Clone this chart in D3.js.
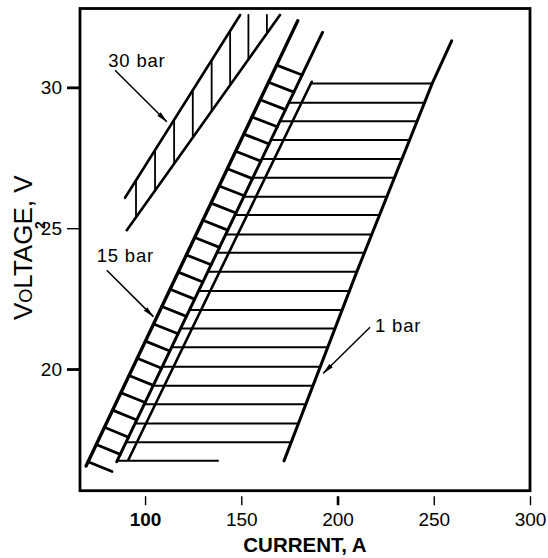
<!DOCTYPE html>
<html><head><meta charset="utf-8">
<script src="https://cdn.jsdelivr.net/npm/d3@7"></script>
<style>body{margin:0;background:#fff}svg{display:block}</style>
</head><body>
<svg id="chart" width="548" height="558"></svg>
<script>
// ---------- data (current in A, voltage in V) ----------
const xTicks = [100, 150, 200, 250, 300];
const xTickBold = [100];
const yTicks = [20, 25, 30];

// 30 bar band: two boundary lines + vertical hatches at given currents
const bar30Upper = [[89.6, 26.08], [149.4, 32.57]];
const bar30Lower = [[90.5, 24.93], [170.1, 32.57]];
const bar30HatchA = [95.3, 105.2, 115.1, 124.8, 134.6, 144.2, 153.7, 163.3];
const bar30TopV = 32.57;

// 15 bar band: two boundary lines + slanted hatches starting at given voltages
const bar15Left = [[69.35, 16.56], [179.3, 32.36]];
const bar15Right = [[85.3, 16.71], [192.2, 31.95]];
const bar15HatchV = [30.79, 30.18, 29.56, 28.95, 28.34, 27.73, 27.11, 26.50, 25.89, 25.28,
                     24.67, 24.05, 23.44, 22.83, 22.22, 21.60, 20.99, 20.38, 19.77, 19.16,
                     18.54, 17.93, 17.32, 16.71];
const bar15HatchDrop = 0.35;

// 1 bar band: boundary lines + horizontal rungs at given voltages
const bar1Left = [[91.3, 16.77], [186.6, 30.2]];
const bar1Right = [[172.2, 16.74], [210.0, 23.45], [249.2, 30.14], [259.3, 31.65]];
const bar1RungV = [30.14, 29.45, 28.80, 28.13, 27.46, 26.79, 26.12, 25.47, 24.78, 24.13,
                   23.45, 22.77, 22.10, 21.44, 20.77, 20.08, 19.41, 18.75, 18.07, 17.40, 16.74];
const bar1LastRungEndA = 137.9;

// annotations
const annoText = ["30 bar", "15 bar", "1 bar"];
const annoTextA = [80.9, 74.9, 219.5];
const annoTextV = [30.73, 23.81, 21.32];
const annoFrom = [[84.4, 30.61], [80.1, 23.51], [216.9, 21.48]];
const annoTo = [[111.3, 28.78], [104.3, 21.86], [192.6, 19.85]];

// ---------- layout ----------
const L = 80, R = 530, T = 8.5, B = 490.7;
const svg = d3.select("#chart");
const x = d3.scaleLinear().domain([66.2, 300]).range([L, R]);
const y = d3.scaleLinear().domain([15.68, 32.80]).range([B, T]);
const FONT = "'Liberation Sans', Arial, Helvetica, sans-serif";

// interpolators along a boundary
const aAtV = pts => d3.scaleLinear().domain(pts.map(p => p[1])).range(pts.map(p => p[0]));
const vAtA = pts => d3.scaleLinear().domain(pts.map(p => p[0])).range(pts.map(p => p[1]));
const line = d3.line().x(d => x(d[0])).y(d => y(d[1]));

const g = svg.append("g").attr("stroke", "#000").attr("fill", "none").attr("stroke-linecap", "round");

function seg(p1, p2, w) {
  g.append("path").attr("d", line([p1, p2])).attr("stroke-width", w);
}

// ----- 30 bar -----
const up30 = vAtA(bar30Upper), lo30 = vAtA(bar30Lower);
bar30HatchA.forEach(a => {
  const top = Math.min(up30(a), bar30TopV);
  seg([a, lo30(a)], [a, top], 1.8);
});
g.append("path").attr("d", line(bar30Upper)).attr("stroke-width", 2.6);
g.append("path").attr("d", line(bar30Lower)).attr("stroke-width", 2.6);

// ----- 1 bar rungs -----
const l15b = aAtV(bar15Right), l1a = aAtV(bar1Left), l1b = aAtV(bar1Right);
bar1RungV.forEach((v, i) => {
  const a0 = i === 0 ? l1a(v) : l15b(v);
  const a1 = i === bar1RungV.length - 1 ? bar1LastRungEndA : l1b(v);
  seg([a0, v], [a1, v], 2);
});

// ----- 15 bar hatches -----
const l15a = aAtV(bar15Left);
bar15HatchV.forEach(v => {
  const v2 = v - bar15HatchDrop;
  seg([l15a(v), v], [l15b(v2), v2], 2.8);
});

// boundary lines
g.append("path").attr("d", line(bar15Left)).attr("stroke-width", 3.4);
g.append("path").attr("d", line(bar15Right)).attr("stroke-width", 3);
g.append("path").attr("d", line(bar1Left)).attr("stroke-width", 2.6);
g.append("path").attr("d", line(bar1Right)).attr("stroke-width", 3).attr("stroke-linejoin", "round");

// ----- frame -----
svg.append("rect").attr("x", L).attr("y", T).attr("width", R - L).attr("height", B - T)
  .attr("fill", "none").attr("stroke", "#000").attr("stroke-width", 2.8);

// ----- axes -----
const xAxis = d3.axisBottom(x).tickValues(xTicks).tickSize(9).tickPadding(7).tickFormat(d3.format("d"));
const xg = svg.append("g").attr("transform", `translate(0,${B + 5.5})`).call(xAxis);
xg.select(".domain").remove();
xg.selectAll(".tick line").attr("stroke", "#000").attr("stroke-width", d => d === 200 ? 2.6 : 1.4);
xg.selectAll(".tick text").attr("fill", "#000").attr("font-family", FONT).attr("font-size", 19)
  .attr("font-weight", d => xTickBold.includes(d) ? "bold" : "normal");

const yAxis = d3.axisLeft(y).tickValues(yTicks).tickSize(13).tickPadding(5).tickFormat(d3.format("d"));
const yg = svg.append("g").attr("transform", `translate(${L},0)`).call(yAxis);
yg.select(".domain").remove();
yg.selectAll(".tick line").attr("stroke", "#000").attr("stroke-width", d => d === 25 ? 1.4 : 2.8);
yg.selectAll(".tick text").attr("fill", "#000").attr("font-family", FONT).attr("font-size", 19);

// axis titles
svg.append("text").attr("x", (L + R) / 2).attr("y", 552).attr("text-anchor", "middle")
  .attr("font-family", FONT).attr("font-size", 20.5).attr("font-weight", "bold").attr("fill", "#000")
  .text("CURRENT, A");

const yt = svg.append("text").attr("transform", "translate(31.5,320) rotate(-90)")
  .attr("font-family", FONT).attr("font-size", 26).attr("fill", "#000");
yt.append("tspan").text("V");
yt.append("tspan").attr("font-size", 18).text("O");
yt.append("tspan").text("LTAGE, V");
svg.append("text").attr("transform", "translate(45,229) rotate(-90)")
  .attr("font-family", FONT).attr("font-size", 14).attr("font-weight", "bold").attr("fill", "#000").text("2");

// ----- annotations -----
svg.append("defs").append("marker").attr("id", "ah").attr("viewBox", "0 0 12 6")
  .attr("refX", 11).attr("refY", 3).attr("markerWidth", 12).attr("markerHeight", 6)
  .attr("markerUnits", "userSpaceOnUse").attr("orient", "auto")
  .append("path").attr("d", "M0,0.6 L12,3 L0,5.4 Z").attr("fill", "#000");

annoText.forEach((t, i) => {
  svg.append("text").attr("x", x(annoTextA[i])).attr("y", y(annoTextV[i]))
    .attr("font-family", FONT).attr("font-size", 18.5).attr("letter-spacing", 0.8).attr("fill", "#000").text(t);
  svg.append("path").attr("d", line([annoFrom[i], annoTo[i]]))
    .attr("stroke", "#000").attr("stroke-width", 1.5).attr("fill", "none").attr("marker-end", "url(#ah)");
});
</script>
</body></html>
